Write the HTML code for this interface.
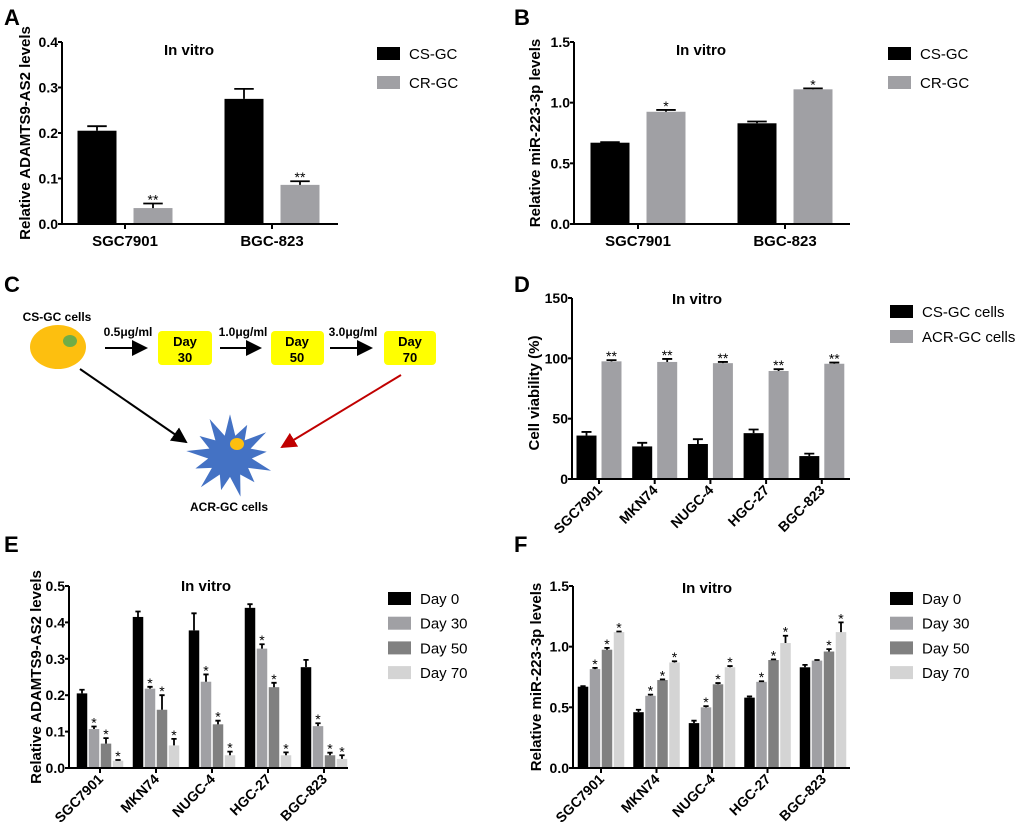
<!DOCTYPE html>
<html><head><meta charset="utf-8"><style>
body{margin:0;background:#fff}
svg{display:block;font-family:"Liberation Sans",Arial,sans-serif}
</style></head><body>
<svg id="fig" width="1020" height="834" viewBox="0 0 1020 834" xmlns="http://www.w3.org/2000/svg">
<g font-weight="bold" font-size="22">
<text x="4" y="25">A</text>
<text x="514" y="25">B</text>
<text x="4" y="292">C</text>
<text x="514" y="292">D</text>
<text x="4" y="552">E</text>
<text x="514" y="552">F</text>
</g>
<g id="panelC">
<defs>
<marker id="ab" markerWidth="8" markerHeight="8" refX="7" refY="4" orient="auto"><path d="M0,0 L8,4 L0,8 z" fill="#000"/></marker>
<marker id="ar" markerWidth="8" markerHeight="8" refX="7" refY="4" orient="auto"><path d="M0,0 L8,4 L0,8 z" fill="#c00000"/></marker>
</defs>
<text x="57" y="321" text-anchor="middle" font-size="12" font-weight="bold">CS-GC cells</text>
<ellipse cx="58" cy="347" rx="28" ry="22" fill="#fdbf0f"/>
<ellipse cx="70" cy="341" rx="7" ry="6" fill="#70ad47"/>
<g stroke="#000" stroke-width="2">
<line x1="105" y1="348" x2="146" y2="348" marker-end="url(#ab)"/>
<line x1="220" y1="348" x2="260" y2="348" marker-end="url(#ab)"/>
<line x1="330" y1="348" x2="371" y2="348" marker-end="url(#ab)"/>
</g>
<g font-size="12" font-weight="bold" text-anchor="middle">
<text x="128" y="336">0.5μg/ml</text>
<text x="243" y="336">1.0μg/ml</text>
<text x="353" y="336">3.0μg/ml</text>
</g>
<g font-size="13" font-weight="bold" text-anchor="middle">
<rect x="158" y="331" width="54" height="34" rx="4" fill="#ffff00"/>
<text x="185" y="346">Day</text><text x="185" y="362">30</text>
<rect x="271" y="331" width="53" height="34" rx="4" fill="#ffff00"/>
<text x="297" y="346">Day</text><text x="297" y="362">50</text>
<rect x="384" y="331" width="52" height="34" rx="4" fill="#ffff00"/>
<text x="410" y="346">Day</text><text x="410" y="362">70</text>
</g>
<line x1="80" y1="369" x2="186" y2="442" stroke="#000" stroke-width="2" marker-end="url(#ab)"/>
<line x1="401" y1="375" x2="282" y2="447" stroke="#c00000" stroke-width="2" marker-end="url(#ar)"/>
<polygon id="star" fill="#4472c4"/>
<ellipse cx="237" cy="444" rx="7" ry="6" fill="#fdbf0f"/>
<text x="229" y="511" text-anchor="middle" font-size="12" font-weight="bold">ACR-GC cells</text>
</g>
</svg>
<script>
// ---- Panel A data ----
const catsA = ["SGC7901", "BGC-823"];
const aCS = [0.205, 0.275];
const aCSErr = [0.010, 0.022];
const aCR = [0.035, 0.086];
const aCRErr = [0.010, 0.008];
const ticksA = [0, 0.1, 0.2, 0.3, 0.4];
const tickLabelsA = ["0.0", "0.1", "0.2", "0.3", "0.4"];
// ---- Panel B data ----
const catsB = ["SGC7901", "BGC-823"];
const bCS = [0.67, 0.83];
const bCSErr = [0.005, 0.015];
const bCR = [0.925, 1.11];
const bCRErr = [0.015, 0.008];
const ticksB = [0, 0.5, 1.0, 1.5];
const tickLabelsB = ["0.0", "0.5", "1.0", "1.5"];
// ---- Panel D data ----
const cellLines = ["SGC7901", "MKN74", "NUGC-4", "HGC-27", "BGC-823"];
const dCS = [36, 27, 29, 38, 19];
const dCSErr = [3, 3, 4, 3, 2];
const dACR = [97.5, 97, 96, 89.5, 95.5];
const dACRErr = [1, 2.5, 1, 1.5, 1];
const ticksD = [0, 50, 100, 150];
const tickLabelsD = ["0", "50", "100", "150"];
// ---- Panel E data ----
const eDay0 = [0.205, 0.415, 0.378, 0.44, 0.277];
const eDay0Err = [0.010, 0.015, 0.047, 0.010, 0.020];
const eDay30 = [0.107, 0.218, 0.237, 0.328, 0.115];
const eDay30Err = [0.007, 0.005, 0.020, 0.012, 0.008];
const eDay50 = [0.067, 0.16, 0.12, 0.222, 0.035];
const eDay50Err = [0.015, 0.040, 0.010, 0.012, 0.007];
const eDay70 = [0.020, 0.062, 0.035, 0.035, 0.025];
const eDay70Err = [0.002, 0.018, 0.010, 0.008, 0.010];
const ticksE = [0, 0.1, 0.2, 0.3, 0.4, 0.5];
const tickLabelsE = ["0.0", "0.1", "0.2", "0.3", "0.4", "0.5"];
// ---- Panel F data ----
const fDay0 = [0.67, 0.46, 0.37, 0.58, 0.83];
const fDay0Err = [0.005, 0.02, 0.02, 0.01, 0.02];
const fDay30 = [0.815, 0.595, 0.50, 0.71, 0.885];
const fDay30Err = [0.01, 0.01, 0.01, 0.005, 0.005];
const fDay50 = [0.975, 0.725, 0.69, 0.89, 0.96];
const fDay50Err = [0.015, 0.005, 0.01, 0.005, 0.02];
const fDay70 = [1.12, 0.87, 0.83, 1.03, 1.12];
const fDay70Err = [0.005, 0.01, 0.01, 0.06, 0.08];
const fStars30 = ["*", "*", "*", "*", ""];
const ticksF = [0, 0.5, 1.0, 1.5];
const tickLabelsF = ["0.0", "0.5", "1.0", "1.5"];

const NS = "http://www.w3.org/2000/svg";
const fig = document.getElementById("fig");
function mk(tag, attrs, parent, txt) {
  const e = document.createElementNS(NS, tag);
  for (const k in attrs) e.setAttribute(k, attrs[k]);
  if (txt !== undefined) e.textContent = txt;
  (parent || fig).appendChild(e);
  return e;
}

(function(){
  const pts = [];
  const n = 13, cx = 230, cy = 456;
  for (let i = 0; i < 2 * n; i++) {
    const a = Math.PI * i / n - Math.PI / 2;
    const r = i % 2 === 0 ? (i % 4 === 0 ? 44 : 37) : 22;
    pts.push((cx + r * Math.cos(a)).toFixed(1) + "," + (cy + r * Math.sin(a) * 0.95).toFixed(1));
  }
  document.getElementById("star").setAttribute("points", pts.join(" "));
})();

function chart(o) {
  const g = mk("g", {});
  
  
  const ymax = o.ticks[o.ticks.length - 1];
  const ys = v => o.y0 - (v / ymax) * (o.y0 - o.y1);
  const xc = i => o.first + i * o.step;
  const nS = o.series.length;
  const total = nS * o.bw + (nS - 1) * o.gap;
  o.series.forEach((s, si) => {
    s.vals.forEach((v, i) => {
      const x = xc(i) - total / 2 + si * (o.bw + o.gap);
      const top = ys(v);
      const r = mk("rect", {x: x, y: top, width: o.bw, height: o.y0 - top, fill: s.color}, g);
      
      
      const et = ys(v + s.errs[i]);
      const cx = x + o.bw / 2;
      const cw = o.bw * 0.5;
      mk("path", {d: `M${cx},${top} V${et} M${cx - cw / 2},${et} H${cx + cw / 2}`, stroke: "#000", "stroke-width": 1.8, fill: "none"}, g);
      const st = s.stars ? s.stars[i] : "";
      if (st) {
        const t = mk("text", {x: cx, y: et + 1, "text-anchor": "middle", "font-size": 14}, g, st);
        
        
      }
    });
  });
  const ax = mk("path", {d: `M${o.x0},${o.y1} V${o.y0} H${o.x1}`, stroke: "#000", "stroke-width": 2, fill: "none"}, g);
  
  
  o.ticks.forEach((t, i) => {
    const y = ys(t);
    mk("line", {x1: o.x0 - 4, x2: o.x0, y1: y, y2: y, stroke: "#000", "stroke-width": 2}, g);
    const l = mk("text", {x: o.x0 - 4, y: y + 5, "text-anchor": "end", "font-size": 14, "font-weight": "bold"}, g, o.tickLabels[i]);
    
    
  });
  o.cats.forEach((c, i) => {
    const x = xc(i);
    mk("line", {x1: x, x2: x, y1: o.y0, y2: o.y0 + 5, stroke: "#000", "stroke-width": 2}, g);
    let l;
    if (o.rotate) {
      l = mk("text", {x: x + 4, y: o.y0 + 12, "text-anchor": "end", "font-size": 14, "font-weight": "bold", transform: `rotate(-45 ${x + 4} ${o.y0 + 12})`}, g, c);
    } else {
      l = mk("text", {x: x, y: o.y0 + 22, "text-anchor": "middle", "font-size": 15, "font-weight": "bold"}, g, c);
    }
    
    
  });
  const yt = mk("text", {x: 0, y: 0, "text-anchor": "middle", "font-size": 15, "font-weight": "bold", transform: `translate(${o.ytx},${o.yty}) rotate(-90)`}, g, o.ytitle);
  
  
  const tt = mk("text", {x: o.titleX, y: o.titleY, "text-anchor": "middle", "font-size": 15, "font-weight": "bold"}, g, "In vitro");
  
  
  o.series.forEach((s, si) => {
    const y = o.legY + si * o.legStep;
    const le = mk("g", {}, g);
    
    
    mk("rect", {x: o.legX, y: y, width: 23, height: 13, fill: s.color}, le);
    mk("text", {x: o.legX + 32, y: y + 12, "font-size": 15}, le, s.label);
  });
}

const G1 = "#a0a0a4", G2 = "#808080", G3 = "#d4d4d4";
chart({name: "chart-a", cats: catsA, ticks: ticksA, tickLabels: tickLabelsA, x0: 62, x1: 338, y0: 224, y1: 42,
  first: 125, step: 147, bw: 39, gap: 17, ytitle: "Relative ADAMTS9-AS2 levels", ytx: 30, yty: 133,
  titleX: 189, titleY: 55, legX: 377, legY: 47, legStep: 29,
  series: [{key: "cs-gc", label: "CS-GC", color: "#000", vals: aCS, errs: aCSErr},
           {key: "cr-gc", label: "CR-GC", color: G1, vals: aCR, errs: aCRErr, stars: ["**", "**"]}]});
chart({name: "chart-b", cats: catsB, ticks: ticksB, tickLabels: tickLabelsB, x0: 574, x1: 850, y0: 224, y1: 42,
  first: 638, step: 147, bw: 39, gap: 17, ytitle: "Relative miR-223-3p levels", ytx: 540, yty: 133,
  titleX: 701, titleY: 55, legX: 888, legY: 47, legStep: 29,
  series: [{key: "cs-gc", label: "CS-GC", color: "#000", vals: bCS, errs: bCSErr},
           {key: "cr-gc", label: "CR-GC", color: G1, vals: bCR, errs: bCRErr, stars: ["*", "*"]}]});
chart({name: "chart-d", cats: cellLines, ticks: ticksD, tickLabels: tickLabelsD, x0: 572, x1: 850, y0: 479, y1: 298,
  first: 599, step: 55.7, bw: 20, gap: 5, rotate: true, ytitle: "Cell viability (%)", ytx: 539, yty: 393,
  titleX: 697, titleY: 304, legX: 890, legY: 305, legStep: 25,
  series: [{key: "cs-gc-cells", label: "CS-GC cells", color: "#000", vals: dCS, errs: dCSErr},
           {key: "acr-gc-cells", label: "ACR-GC cells", color: G1, vals: dACR, errs: dACRErr, stars: ["**","**","**","**","**"]}]});
const s5 = ["*","*","*","*","*"];
chart({name: "chart-e", cats: cellLines, ticks: ticksE, tickLabels: tickLabelsE, x0: 69, x1: 348, y0: 768, y1: 586,
  first: 100, step: 56, bw: 10.5, gap: 1.5, rotate: true, ytitle: "Relative ADAMTS9-AS2 levels", ytx: 41, yty: 677,
  titleX: 206, titleY: 591, legX: 388, legY: 592, legStep: 24.7,
  series: [{key: "day-0", label: "Day 0", color: "#000", vals: eDay0, errs: eDay0Err},
           {key: "day-30", label: "Day 30", color: G1, vals: eDay30, errs: eDay30Err, stars: s5},
           {key: "day-50", label: "Day 50", color: G2, vals: eDay50, errs: eDay50Err, stars: s5},
           {key: "day-70", label: "Day 70", color: G3, vals: eDay70, errs: eDay70Err, stars: s5}]});
chart({name: "chart-f", cats: cellLines, ticks: ticksF, tickLabels: tickLabelsF, x0: 573, x1: 850, y0: 768, y1: 586,
  first: 601, step: 55.5, bw: 10.5, gap: 1.5, rotate: true, ytitle: "Relative miR-223-3p levels", ytx: 541, yty: 677,
  titleX: 707, titleY: 593, legX: 890, legY: 592, legStep: 24.7,
  series: [{key: "day-0", label: "Day 0", color: "#000", vals: fDay0, errs: fDay0Err},
           {key: "day-30", label: "Day 30", color: G1, vals: fDay30, errs: fDay30Err, stars: fStars30},
           {key: "day-50", label: "Day 50", color: G2, vals: fDay50, errs: fDay50Err, stars: s5},
           {key: "day-70", label: "Day 70", color: G3, vals: fDay70, errs: fDay70Err, stars: s5}]});
</script>
</body></html>
